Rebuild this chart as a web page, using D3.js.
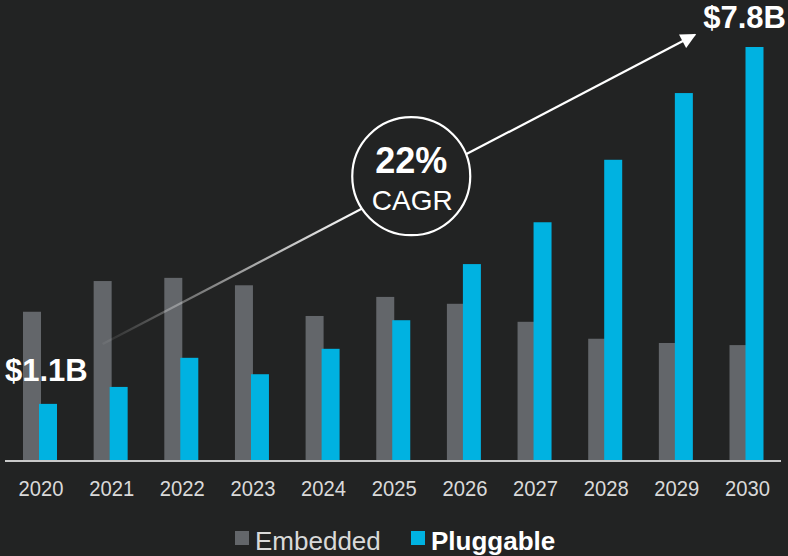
<!DOCTYPE html>
<html>
<head>
<meta charset="utf-8">
<script src="https://cdn.jsdelivr.net/npm/d3@7"></script>
<style>
  html,body{margin:0;padding:0;background:#222323;}
  svg{display:block;font-family:"Liberation Sans",Arial,sans-serif;}
</style>
</head>
<body>
<div id="chart"></div>
<script>
// data ($B)
var years=['2020','2021','2022','2023','2024','2025','2026','2027','2028','2029','2030'];
var embedded=[2.80,3.38,3.44,3.30,2.72,3.08,2.95,2.61,2.29,2.21,2.17];
var pluggable=[1.06,1.38,1.93,1.62,2.10,2.64,3.70,4.49,5.67,6.93,7.80];
var seriesNames=['Embedded','Pluggable'];
var startLabel='$1.1B',endLabel='$7.8B';
var cagrValue='22%',cagrText='CAGR';
//----------------------------------------------------------------
var width=788,
    height=556,
    baseY=460,
    topY=47,
    barWidth=18;

var colors={Embedded:'#63666a',Pluggable:'#00b2e1'};

var svg=d3.select('#chart').append('svg')
    .attr('width',width)
    .attr('height',height);

svg.append('rect')
    .attr('width',width)
    .attr('height',height)
    .style('fill','#222323');

var x=d3.scalePoint()
    .domain(years)
    .range([40,746.5]);

var xSub=d3.scaleBand()
    .domain(seriesNames)
    .range([-17,15]);

var y=d3.scaleLinear()
    .domain([0,d3.max(pluggable)])
    .range([baseY,topY]);

//BARS----------------------------------------------------------------
var seriesData={Embedded:embedded,Pluggable:pluggable};
seriesNames.forEach(function(s){
    svg.append('g').selectAll('rect').data(seriesData[s])
        .enter().append('rect')
        .attr('x',function(d,i){return x(years[i])+xSub(s);})
        .attr('y',function(d){return y(d);})
        .attr('width',barWidth)
        .attr('height',function(d){return baseY-y(d);})
        .style('fill',colors[s]);
});

// axis line
svg.append('line')
    .attr('x1',5).attr('x2',781)
    .attr('y1',baseY+1).attr('y2',baseY+1)
    .style('stroke','#c9c9c9')
    .style('stroke-width',2);

// year labels (slightly condensed like the original)
svg.append('g').selectAll('text').data(years)
    .enter().append('text')
    .attr('transform',function(d){return 'translate('+(x(d)+1)+',496) scale(0.92,1)';})
    .attr('text-anchor','middle')
    .style('font-size','22px')
    .style('fill','#d9d9d9')
    .text(function(d){return d;});

//ARROW----------------------------------------------------------------
var defs=svg.append('defs');
var ax1=x('2021')-8,ay1=y(2.19),
    ax2=x('2029')+19,ay2=y(8.03);
var grad=defs.append('linearGradient')
    .attr('id','fade')
    .attr('gradientUnits','userSpaceOnUse')
    .attr('x1',ax1).attr('y1',ay1)
    .attr('x2',ax1+260).attr('y2',ay1-136);
grad.append('stop').attr('offset','0%').attr('stop-color','#ffffff').attr('stop-opacity',0.05);
grad.append('stop').attr('offset','100%').attr('stop-color','#ffffff').attr('stop-opacity',1);

defs.append('marker')
    .attr('id','head')
    .attr('viewBox','0 0 10 10')
    .attr('refX',9).attr('refY',5)
    .attr('markerWidth',8).attr('markerHeight',7)
    .attr('markerUnits','strokeWidth')
    .attr('orient','auto')
  .append('path')
    .attr('d','M0,0L10,5L0,10Z')
    .style('fill','#ffffff');

svg.append('line')
    .attr('x1',ax1).attr('y1',ay1)
    .attr('x2',ax2).attr('y2',ay2)
    .style('stroke','url(#fade)')
    .style('stroke-width',2.2)
    .attr('marker-end','url(#head)');

// CAGR circle
var cx=x('2025')+18,cy=y(5.36);
svg.append('circle')
    .attr('cx',cx).attr('cy',cy).attr('r',59)
    .style('fill','#222323')
    .style('stroke','#ffffff')
    .style('stroke-width',2.2);
svg.append('text')
    .attr('x',cx).attr('y',cy-3)
    .attr('text-anchor','middle')
    .style('font-size','36px')
    .style('font-weight','bold')
    .style('fill','#ffffff')
    .text(cagrValue);
svg.append('text')
    .attr('x',cx+1).attr('y',cy+34)
    .attr('text-anchor','middle')
    .style('font-size','28px')
    .style('fill','#ffffff')
    .text(cagrText);

// value labels
svg.append('text')
    .attr('x',5).attr('y',381)
    .style('font-size','31px')
    .style('font-weight','bold')
    .style('fill','#ffffff')
    .text(startLabel);
svg.append('text')
    .attr('x',786).attr('y',28)
    .attr('text-anchor','end')
    .style('font-size','31px')
    .style('font-weight','bold')
    .style('fill','#ffffff')
    .text(endLabel);

//LEGEND----------------------------------------------------------------
var legend=[{name:'Embedded',x:235,bold:false,color:'#d9d9d9'},
            {name:'Pluggable',x:411,bold:true,color:'#ffffff'}];
var lg=svg.append('g').selectAll('g').data(legend)
    .enter().append('g');
lg.append('rect')
    .attr('x',function(d){return d.x;})
    .attr('y',531)
    .attr('width',14).attr('height',14)
    .style('fill',function(d){return colors[d.name];});
lg.append('text')
    .attr('x',function(d){return d.x+20;})
    .attr('y',550)
    .style('font-size','26px')
    .style('font-weight',function(d){return d.bold?'bold':'normal';})
    .style('fill',function(d){return d.color;})
    .text(function(d){return d.name;});
</script>
</body>
</html>
